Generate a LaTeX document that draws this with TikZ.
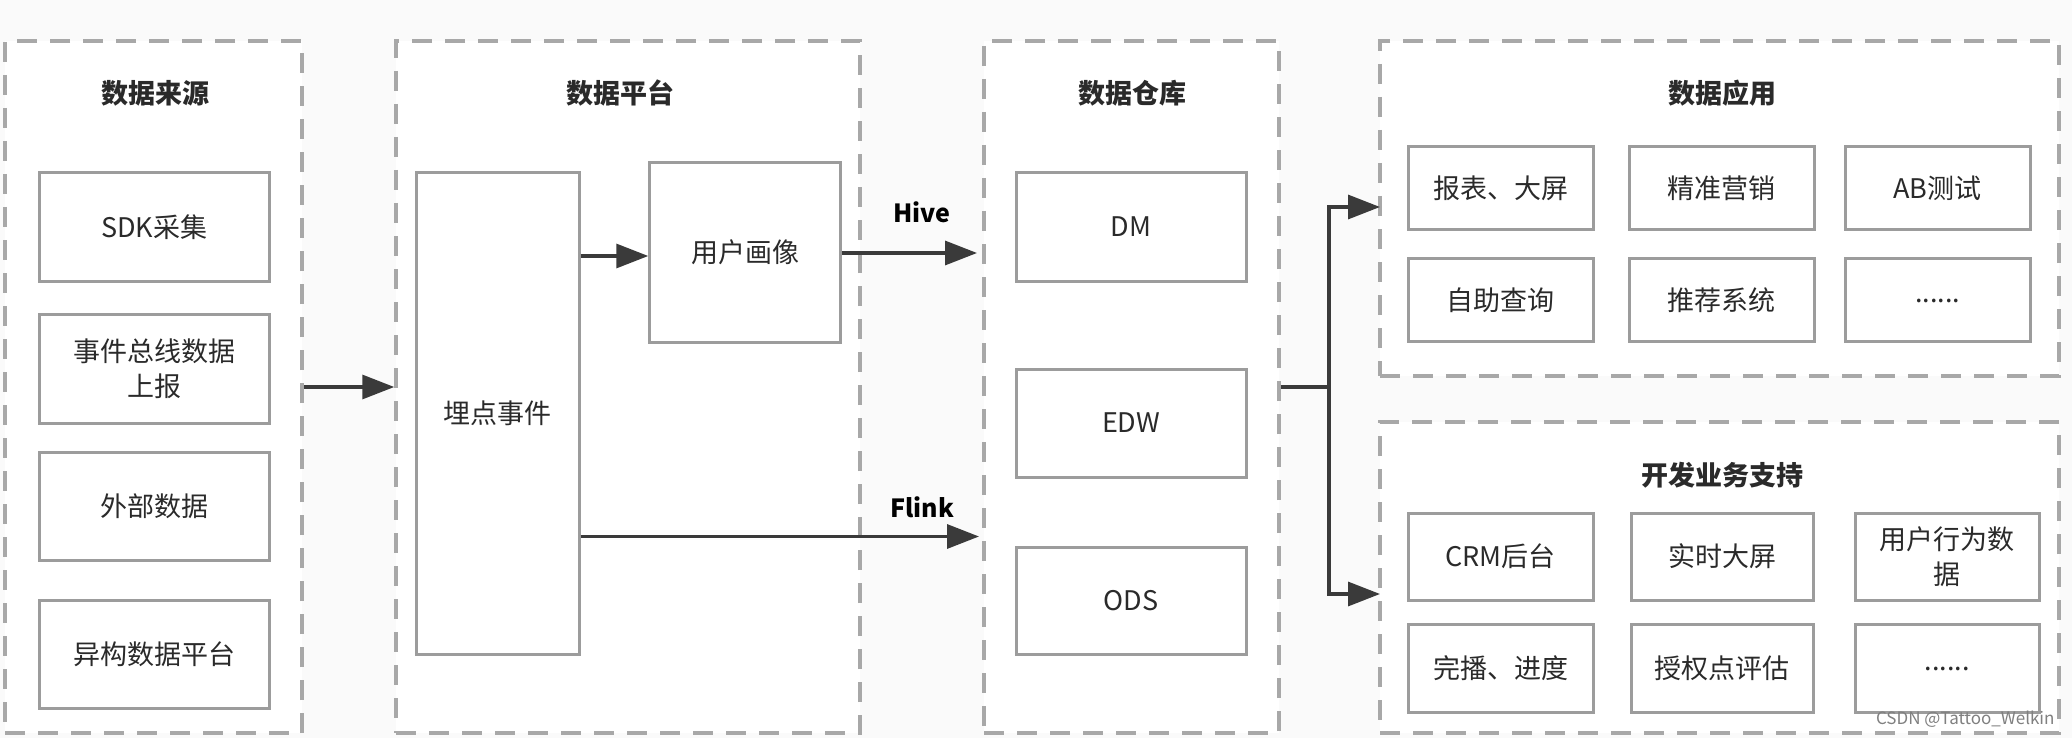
\documentclass[tikz,border=0pt]{standalone}
\usepackage{fontspec}
\setmainfont{Noto Sans CJK SC}
\usetikzlibrary{arrows.meta}
\definecolor{bgc}{HTML}{FAFAFA}
\definecolor{dashc}{HTML}{A8A8A8}
\definecolor{boxc}{HTML}{9C9C9C}
\definecolor{txt}{HTML}{2A2A2A}
\definecolor{arr}{HTML}{3A3A3A}
\tikzset{
  panel/.style={draw=dashc, fill=white, line width=3.5pt, dash pattern=on 20pt off 13pt, inner sep=0pt},
  box/.style={draw=boxc, fill=white, line width=3pt, inner sep=2pt, align=center, text=txt,
              font=\fontsize{27}{35}\selectfont},
  ttl/.style={text=txt, font=\fontsize{27}{34}\selectfont\bfseries},
  lbl/.style={text=black, font=\fontsize{25}{30}\selectfont\bfseries},
  conn/.style={draw=arr, line width=3.3pt},
  arrw/.style={conn, -{Triangle[length=32pt,width=24pt]}},
}
\begin{document}
\begin{tikzpicture}[x=1pt,y=-1pt]
\useasboundingbox[fill=bgc] (0,0) rectangle (2072,738);
% panels
\node[panel, minimum width=297pt, minimum height=692pt] (p1) at (153.5,387) {};
\node[panel, minimum width=464pt, minimum height=692pt] (p2) at (628,387) {};
\node[panel, minimum width=295pt, minimum height=692pt] (p3) at (1131.5,387) {};
\node[panel, minimum width=679pt, minimum height=335pt] (p4) at (1719.5,208.5) {};
\node[panel, minimum width=679pt, minimum height=311pt] (p5) at (1719.5,577.5) {};
% titles
\node[ttl] (t1) at (155,93) {数据来源};
\node[ttl] (t2) at (620,93) {数据平台};
\node[ttl] (t3) at (1132,93) {数据仓库};
\node[ttl] (t4) at (1722,93) {数据应用};
\node[ttl] (t5) at (1722,475) {开发业务支持};
% column 1
\node[box, minimum width=230pt, minimum height=108pt] (sdk) at (154.3,227) {SDK采集};
\node[box, minimum width=230pt, minimum height=109pt] (bus) at (154.3,368.5) {事件总线数据\\上报};
\node[box, minimum width=230pt, minimum height=108pt] (ext) at (154.3,506) {外部数据};
\node[box, minimum width=230pt, minimum height=108pt] (het) at (154.3,654) {异构数据平台};
% column 2
\node[box, minimum width=163pt, minimum height=481pt] (mai) at (497.5,413.5) {埋点事件};
\node[box, minimum width=190.5pt, minimum height=179pt] (yh) at (745,252.5) {用户画像};
% column 3
\node[box, minimum width=230pt, minimum height=108pt] (dm) at (1131,227) {DM};
\node[box, minimum width=230pt, minimum height=108pt] (edw) at (1131,423) {EDW};
\node[box, minimum width=230pt, minimum height=107pt] (ods) at (1131,600.5) {ODS};
% data applications
\node[box, minimum width=185pt, minimum height=83pt] (a1) at (1500.5,188.5) {报表、大屏};
\node[box, minimum width=185pt, minimum height=83pt] (a2) at (1721.5,188.5) {精准营销};
\node[box, minimum width=185pt, minimum height=83pt] (a3) at (1937.5,188.5) {AB测试};
\node[box, minimum width=185pt, minimum height=83pt] (a4) at (1500.5,300) {自助查询};
\node[box, minimum width=185pt, minimum height=83pt] (a5) at (1721.5,300) {推荐系统};
\node[box, minimum width=185pt, minimum height=83pt] (a6) at (1937.5,300) {\raisebox{-6pt}{......}};
% dev support
\node[box, minimum width=185pt, minimum height=87pt] (b1) at (1500.5,556.5) {CRM后台};
\node[box, minimum width=182pt, minimum height=87pt] (b2) at (1722,556.5) {实时大屏};
\node[box, minimum width=184pt, minimum height=87pt] (b3) at (1947,556.5) {用户行为数\\据};
\node[box, minimum width=185pt, minimum height=88pt] (b4) at (1500.5,668) {完播、进度};
\node[box, minimum width=182pt, minimum height=88pt] (b5) at (1722,668) {授权点评估};
\node[box, minimum width=184pt, minimum height=88pt] (b6) at (1947,668) {\raisebox{-6pt}{......}};
% connectors
\draw[arrw] (p1.east) -- (p2.west);
\coordinate (m1) at (mai.east |- 0,256);
\draw[arrw] (m1) -- (yh.west |- m1);
\coordinate (hiveEnd) at (977,253);
\draw[arrw] (yh.east |- hiveEnd) -- (hiveEnd);
\coordinate (flinkEnd) at (979,536.5);
\draw[arrw] (mai.east |- flinkEnd) -- (flinkEnd);
\node[lbl] (hive) at (922,212) {Hive};
\node[lbl] (flink) at (922,507) {Flink};
\coordinate (j) at (1329,387);
\coordinate (e4) at (1380,207);
\coordinate (e5) at (1380,594);
\draw[conn] (p3.east) -- (j);
\draw[arrw] (j) |- (e4);
\draw[arrw] (j) |- (e5);
% watermark
\node[anchor=east, text=gray, font=\fontsize{17}{20}\selectfont] (wm) at (2058,719) {CSDN @Tattoo\_Welkin};
\end{tikzpicture}
\end{document}
